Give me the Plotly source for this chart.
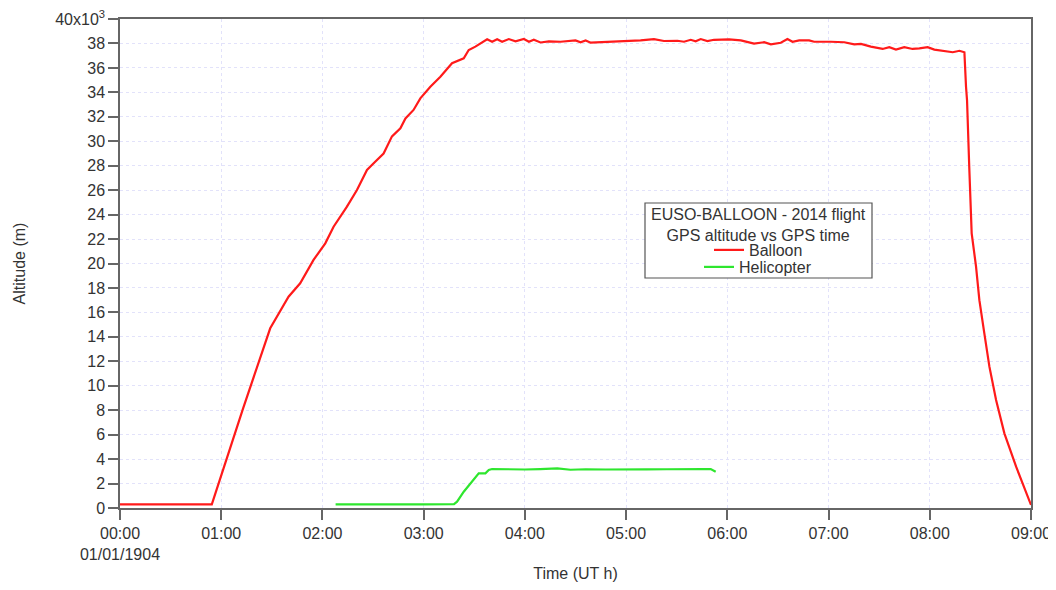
import plotly.graph_objects as go

# Balloon: time (hours UT) and altitude (m)
balloon_t = [0.0, 0.5, 0.907, 1.217, 1.484, 1.665, 1.78, 1.912, 2.028, 2.11, 2.242, 2.341,
             2.44, 2.506, 2.604, 2.687, 2.77, 2.82, 2.90, 2.967, 3.066, 3.165, 3.28, 3.396,
             3.445, 3.511, 3.627, 3.676, 3.726, 3.775, 3.841, 3.907, 3.99, 4.04, 4.088,
             4.154, 4.237, 4.352, 4.5, 4.55, 4.6, 4.65, 4.75, 4.913, 5.01, 5.143, 5.275,
             5.374, 5.506, 5.572, 5.638, 5.687, 5.737, 5.803, 5.869, 6.017, 6.133, 6.264,
             6.363, 6.43, 6.528, 6.594, 6.644, 6.71, 6.808, 6.858, 7.023, 7.155, 7.254,
             7.32, 7.418, 7.534, 7.6, 7.666, 7.748, 7.83, 7.897, 7.979, 8.045, 8.144,
             8.227, 8.293, 8.342, 8.358, 8.368, 8.39, 8.414, 8.457, 8.49, 8.539, 8.589, 8.655,
             8.737, 8.853, 9.0]
balloon_alt = [300, 300, 300, 8170, 14700, 17280, 18380, 20290, 21650, 23010, 24650, 26010,
               27650, 28200, 29000, 30400, 31060, 31870, 32560, 33510, 34460, 35280, 36380, 36780,
               37460, 37740, 38340, 38140, 38340, 38140, 38360, 38170, 38360, 38140, 38300,
               38080, 38170, 38140, 38250, 38100, 38250, 38060, 38100, 38140, 38170, 38250, 38360,
               38200, 38220, 38140, 38300, 38170, 38360, 38200, 38300, 38330, 38250, 37980,
               38100, 37930, 38060, 38360, 38140, 38250, 38250, 38140, 38140, 38100, 37930,
               37960, 37740, 37550, 37700, 37500, 37700, 37550, 37600, 37700, 37500, 37400,
               37280, 37400, 37280, 34460, 33370, 27900, 22470, 19740, 17000, 14290, 11560, 8830,
               6110, 3380, 250]

# Helicopter
heli_t = [2.13, 2.6, 3.0, 3.3, 3.33, 3.396, 3.462, 3.544, 3.61, 3.643, 3.676, 3.8, 4.0,
          4.15, 4.32, 4.45, 4.6, 4.8, 5.0, 5.2, 5.4, 5.6, 5.75, 5.836, 5.885]
heli_alt = [300, 280, 300, 320, 520, 1330, 2020, 2840, 2840, 3110, 3190, 3160, 3150,
            3180, 3240, 3130, 3170, 3150, 3180, 3160, 3170, 3150, 3180, 3190, 2970]

x_tickvals = [0, 1, 2, 3, 4, 5, 6, 7, 8, 9]
x_ticktext = ["00:00<br>01/01/1904", "01:00", "02:00", "03:00", "04:00", "05:00",
              "06:00", "07:00", "08:00", "09:00"]
y_tickvals = list(range(0, 40001, 2000))
y_ticktext = [str(v // 1000) for v in y_tickvals[:-1]] + ["40x10<sup>3</sup>"]

legend_title = "EUSO-BALLOON - 2014 flight<br>GPS altitude vs GPS time"

TXT = "#333333"

# Page body has an 8px margin; plot area wanted at page px x 120..1031, y 19..508
PX_L, PX_R, PX_T, PX_B = 120, 1031, 19, 508
W, H = 1046, 574
OFF = 8
PW, PH = PX_R - PX_L, PX_B - PX_T


def px_x(px):
    return (px - PX_L) / PW


def px_y(py):
    return (PX_B - py) / PH


fig = go.Figure()
fig.add_trace(go.Scatter(x=balloon_t, y=balloon_alt, mode="lines", name="Balloon",
                         line=dict(color="#ff1a1a", width=2.2), legend="legend",
                         showlegend=True))
fig.add_trace(go.Scatter(x=heli_t, y=heli_alt, mode="lines", name="Helicopter",
                         line=dict(color="#2ee62e", width=2.2), legend="legend2",
                         showlegend=True))

axis_common = dict(showline=True, linecolor="#666666", linewidth=1.5, mirror=True,
                   ticks="outside", ticklen=10, tickcolor="#666666", tickwidth=1.5,
                   showgrid=True, gridcolor="#e2e2fa", griddash="dot", gridwidth=1,
                   zeroline=False, automargin=False, ticklabeloverflow="allow",
                   tickfont=dict(size=16, color=TXT))

fig.update_xaxes(range=[0, 9], tickvals=x_tickvals, ticktext=x_ticktext,
                 title=dict(text="Time (UT h)", font=dict(size=16, color=TXT), standoff=17),
                 **axis_common)
fig.update_yaxes(range=[0, 40000], tickvals=y_tickvals, ticktext=y_ticktext,
                 title=dict(text="Altitude (m)", font=dict(size=16, color=TXT), standoff=26),
                 **axis_common)

# legend frame and title (the legends themselves hold the two line entries)
fig.add_shape(type="rect", xref="paper", yref="paper",
              x0=px_x(645), x1=px_x(872), y0=px_y(278), y1=px_y(203),
              line=dict(color="#555555", width=1.2), fillcolor="white", layer="above")
fig.add_annotation(xref="paper", yref="paper", x=px_x(758), y=px_y(204),
                   xanchor="center", yanchor="top", showarrow=False, align="center",
                   text=legend_title, font=dict(size=16, color=TXT))

leg_common = dict(xanchor="left", yanchor="top", bgcolor="rgba(0,0,0,0)", borderwidth=0,
                  font=dict(size=16, color=TXT), itemwidth=30, visible=True)

fig.update_layout(
    width=W, height=H,
    showlegend=True,
    margin=dict(l=PX_L - OFF, r=OFF + W - PX_R, t=PX_T - OFF, b=OFF + H - PX_B,
                autoexpand=False),
    paper_bgcolor="white", plot_bgcolor="white",
    font=dict(family="Liberation Sans, Arial, sans-serif", color=TXT),
    legend=dict(x=px_x(709), y=px_y(233), **leg_common),
    legend2=dict(x=px_x(699), y=px_y(250), **leg_common),
)

fig.write_html("out.html")
